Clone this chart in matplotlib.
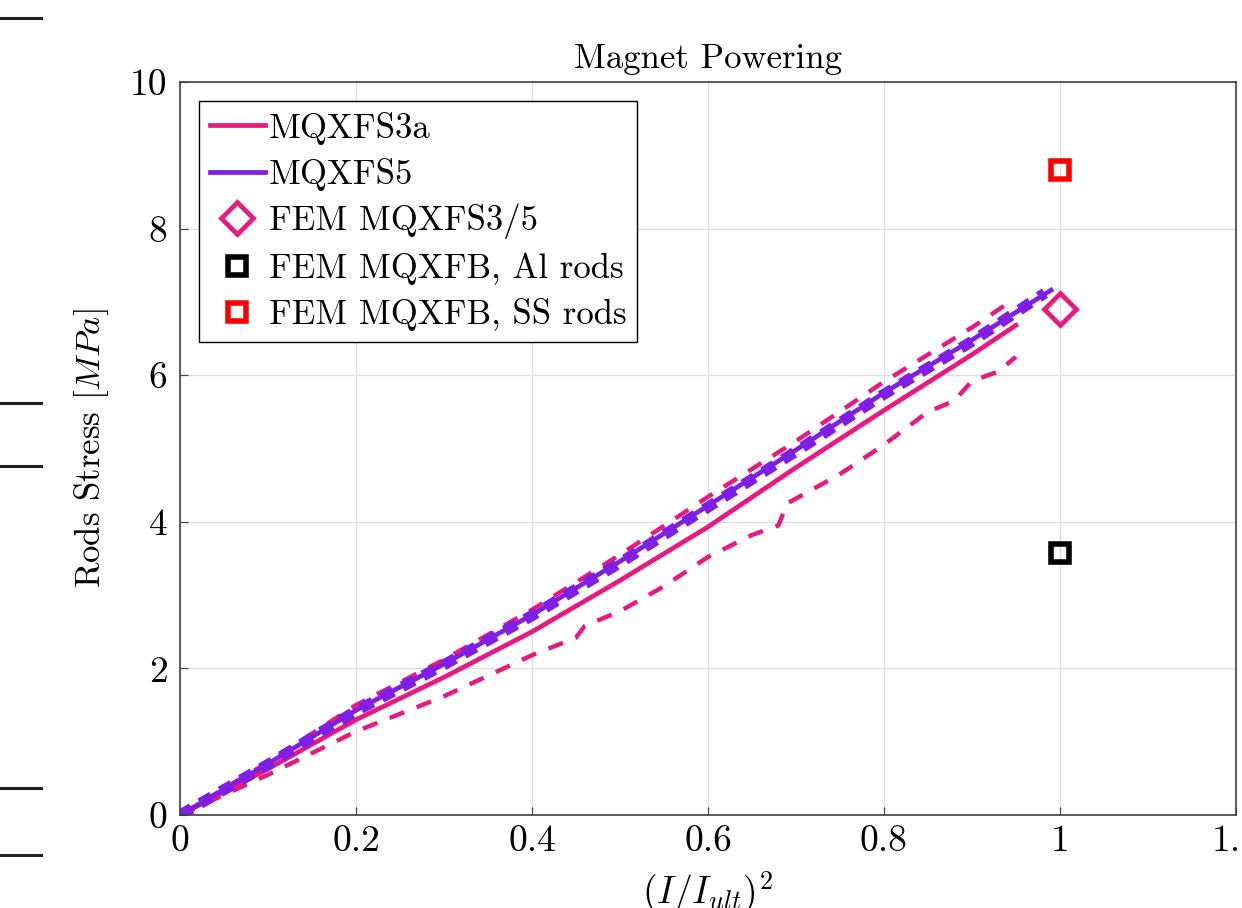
import numpy as np
import matplotlib.pyplot as plt
from matplotlib.lines import Line2D

plt.rcParams['font.family'] = 'cmr10'
plt.rcParams['mathtext.fontset'] = 'cm'
plt.rcParams['axes.formatter.use_mathtext'] = True

# measured curves, x = (I/Iult)^2, y = rod stress [MPa]
s3a_x = [0, 0.1, 0.2, 0.3, 0.4, 0.5, 0.6, 0.7, 0.8, 0.9, 0.95]
s3a_y = [0, 0.63, 1.30, 1.88, 2.50, 3.20, 3.93, 4.74, 5.52, 6.28, 6.68]

s3a_hi_x = [0, 0.1, 0.2, 0.3, 0.4, 0.5, 0.6, 0.7, 0.8, 0.9, 0.947]
s3a_hi_y = [0, 0.72, 1.50, 2.12, 2.80, 3.55, 4.34, 5.10, 5.91, 6.65, 7.03]

s3a_lo_x = [0, 0.1, 0.2, 0.3, 0.4, 0.45, 0.46, 0.5, 0.55, 0.6, 0.65, 0.68, 0.69, 0.75, 0.8, 0.82, 0.85, 0.88, 0.9, 0.93, 0.95]
s3a_lo_y = [0, 0.55, 1.14, 1.62, 2.18, 2.42, 2.58, 2.78, 3.12, 3.52, 3.82, 3.95, 4.25, 4.65, 5.05, 5.23, 5.50, 5.65, 5.92, 6.05, 6.25]

s5_x = [0, 0.1, 0.2, 0.3, 0.4, 0.5, 0.6, 0.7, 0.8, 0.9, 0.99]
s5_y = [0, 0.70, 1.43, 2.06, 2.73, 3.46, 4.22, 4.98, 5.76, 6.48, 7.16]

s5_dash_x = [0, 0.1, 0.2, 0.3, 0.4, 0.5, 0.6, 0.7, 0.8, 0.9, 0.983]
s5_dash_y = [0, 0.69, 1.42, 2.05, 2.72, 3.44, 4.20, 4.96, 5.74, 6.46, 7.12]

fem_s35 = (1.0, 6.9)
fem_b_al = (1.0, 3.58)
fem_b_ss = (1.0, 8.8)

pink = '#E8197F'
purple = '#7F1FE6'

fig = plt.figure(figsize=(12.42, 9.08), dpi=100)
ax = fig.add_axes([0.145, 0.1024, 0.850, 0.8073])

ax.plot(s3a_hi_x, s3a_hi_y, '--', color=pink, lw=3.2, dashes=(3.5, 3))
ax.plot(s3a_lo_x, s3a_lo_y, '--', color=pink, lw=3.2, dashes=(3.5, 3))
ax.plot(s3a_x, s3a_y, '-', color=pink, lw=3.4, label='MQXFS3a')
ax.plot(s5_x, s5_y, '-', color=purple, lw=3.4, label='MQXFS5')
ax.plot(s5_dash_x, s5_dash_y, '--', color=purple, lw=8, dashes=(1.2, 0.9))

ax.plot(*fem_s35, 'D', ms=16, mfc='none', mec=pink, mew=3.4, label='FEM MQXFS3/5',
        linestyle='none')
ax.plot(*fem_b_al, 's', ms=13, mfc='none', mec='black', mew=4, label='FEM MQXFB, Al rods',
        linestyle='none')
ax.plot(*fem_b_ss, 's', ms=13, mfc='none', mec='red', mew=4, label='FEM MQXFB, SS rods',
        linestyle='none')

ax.set_xlim(0, 1.2)
ax.set_ylim(0, 10)
ax.set_xticks([0, 0.2, 0.4, 0.6, 0.8, 1, 1.2])
ax.set_xticklabels(['0', '0.2', '0.4', '0.6', '0.8', '1', '1.2'])
ax.set_yticks([0, 2, 4, 6, 8, 10])
ax.set_yticklabels(['0', '2', '4', '6', '8', '10'])
ax.tick_params(direction='in', labelsize=27, length=6, color='#404040')
ax.tick_params(axis='x', pad=7)
ax.tick_params(axis='y', pad=9)
ax.grid(True, color='#e0e0e0', lw=1)
ax.set_axisbelow(True)
for sp in ax.spines.values():
    sp.set_color('#404040')
    sp.set_linewidth(1.2)

ax.set_title('Magnet Powering', fontsize=25, pad=10)
ax.set_ylabel(r'Rods Stress $[MPa]$', fontsize=25, labelpad=14)
ax.set_xlabel(r'$(I/I_{ult})^2$', fontsize=27, labelpad=8)

leg = ax.legend(loc='upper left', fontsize=25, frameon=True, fancybox=False,
                edgecolor='black', framealpha=1, handlelength=1.6, handletextpad=0.1,
                borderpad=0.3, labelspacing=0.38, borderaxespad=0.55)
leg.get_frame().set_linewidth(1.0)

# stray tick marks at the left edge of the crop
for yy in [18, 403, 466, 788, 855]:
    fig.add_artist(Line2D([0, 41 / 1242], [1 - yy / 908] * 2, color='#222222', lw=2.2,
                          transform=fig.transFigure))

fig.savefig('out.png', dpi=100)
